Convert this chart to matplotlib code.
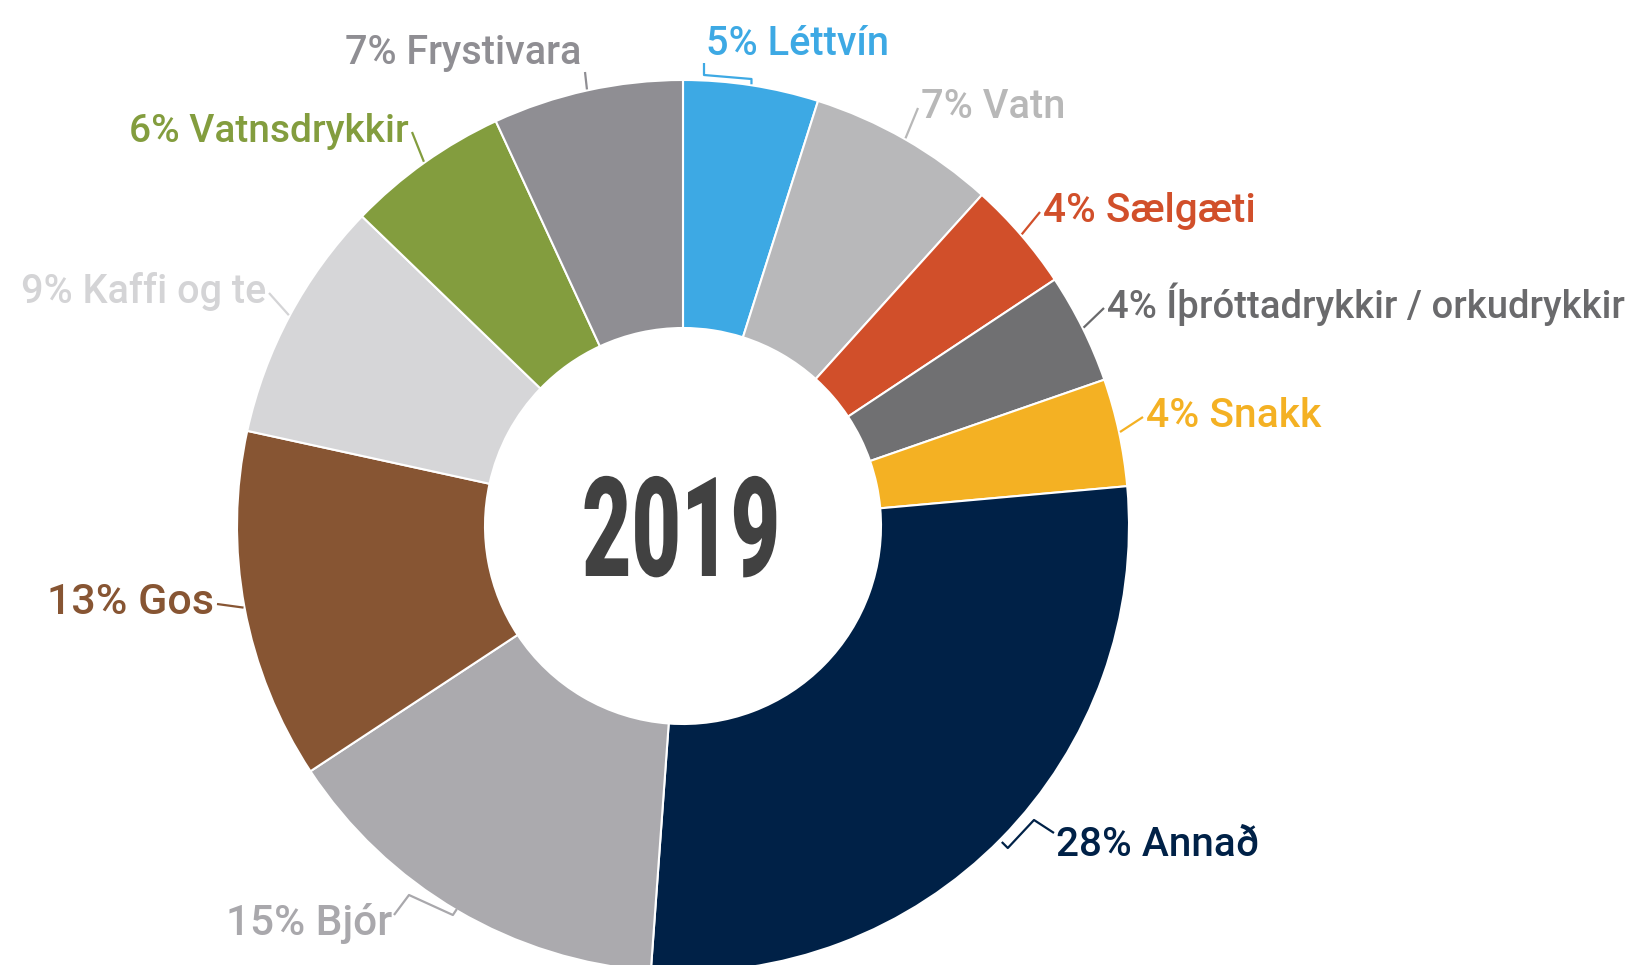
import numpy as np
import matplotlib
matplotlib.use("Agg")
from matplotlib import pyplot as plt
import matplotlib.patheffects as pe
from matplotlib.transforms import Affine2D

# shares (clockwise from 12 o'clock)
labels = ["5% Léttvín", "7% Vatn", "4% Sælgæti", "4% Íþróttadrykkir / orkudrykkir",
          "4% Snakk", "28% Annað", "15% Bjór", "13% Gos", "9% Kaffi og te",
          "6% Vatnsdrykkir", "7% Frystivara"]
shares = [4.9, 6.8, 4.0, 4.0, 3.9, 27.6, 14.6, 12.7, 8.8, 5.9, 6.9]
colors = ["#3da9e4", "#b8b8ba", "#d14f2a", "#707072", "#f4b123", "#002147",
          "#abaaae", "#875533", "#d6d6d8", "#839d3e", "#8f8e93"]
text_colors = ["#3da9e4", "#b8b8b8", "#d14f2a", "#6a6a6c", "#f4b123", "#002147",
               "#a9a8ac", "#875533", "#d4d4d6", "#839d3e", "#8f8e93"]
year = "2019"

# label layout in pixels (y measured from top)
lab_x = [706, 921, 1043, 1107, 1146, 1056, 392, 214, 266, 409, 581]
lab_y = [55, 118, 222, 318, 427, 856, 935, 614, 303, 142, 64]
lab_ha = ["left", "left", "left", "left", "left", "left",
          "right", "right", "right", "right", "right"]
lab_size = [28.6, 28.6, 29.2, 27.5, 29.4, 29.2, 30.5, 31.0, 28.5, 28.0, 28.5]

W, H = 1633, 965
cx, cy = 683, H - 526
R, r_in = 446, 198

fig = plt.figure(figsize=(W / 100, H / 100), dpi=100)
ax = fig.add_axes([0, 0, 1, 1])

ax.pie(shares, colors=colors, startangle=90, counterclock=False,
       radius=R, center=(cx, cy),
       wedgeprops=dict(width=R - r_in, edgecolor="white", linewidth=1.5))
ax.set_xlim(0, W)
ax.set_ylim(0, H)
ax.set_aspect("equal")
ax.axis("off")

cum = np.cumsum([0] + shares)
tot = cum[-1]
for i, lab in enumerate(labels):
    mid = (cum[i] + cum[i + 1]) / 2 / tot * 2 * np.pi
    px = cx + (R + 1) * np.sin(mid)
    py = cy + (R + 1) * np.cos(mid)
    tx, ty = lab_x[i], H - lab_y[i]
    ax.text(tx, ty, lab, ha=lab_ha[i], va="baseline", color=text_colors[i],
            family=["Roboto", "DejaVu Sans"], weight="medium", size=lab_size[i])
    if i == 0:
        # little bracket under the top label
        xs = [tx - 2, tx - 2, px, px]
        ys = [ty - 8, ty - 20, ty - 24, py]
    elif i == 5:
        xs = [tx - 2, tx - 22, px + 6, px]
        ys = [ty + 23, ty + 36, ty + 8, ty + 14]
    elif i == 6:
        xs = [tx + 2, tx + 17, px - 4, px]
        ys = [ty + 20, ty + 40, ty + 20, ty + 26]
    elif i == 10:
        xs = [tx + 4, px]
        ys = [ty - 8, py]
    elif lab_ha[i] == "left":
        xs = [tx - 3, px]
        ys = [ty + 10, py]
    else:
        xs = [tx + 3, px]
        ys = [ty + 10, py]
    ax.plot(xs, ys, color=text_colors[i], lw=1.6, solid_capstyle="butt")


class SqueezeX(pe.AbstractPathEffect):
    def __init__(self, x0, sx):
        super().__init__()
        self.x0, self.sx = x0, sx

    def draw_path(self, renderer, gc, tpath, affine, rgbFace=None):
        sq = Affine2D().translate(-self.x0, 0).scale(self.sx, 1).translate(self.x0, 0)
        renderer.draw_path(gc, tpath, affine + sq, rgbFace)


yr = ax.text(681, H - 576, year, ha="center", va="baseline", color="#414141",
             family=["Roboto", "DejaVu Sans"], weight="black", size=100)
fig.canvas.draw()
bb = yr.get_window_extent()
x0 = ax.transData.transform((681, 0))[0]
yr.set_path_effects([SqueezeX(x0, 198 / bb.width)])

fig.savefig("out.png", dpi=100)
